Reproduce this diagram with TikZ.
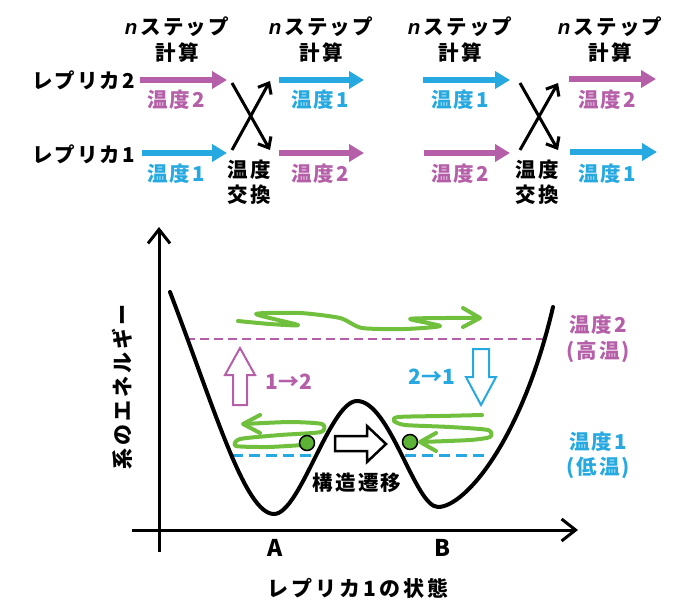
\documentclass[tikz,border=0pt]{standalone}
\usepackage{fontspec}
\setmainfont{Noto Sans CJK JP}
\newfontfamily\latinfont{Liberation Sans}
\usetikzlibrary{arrows.meta}
\definecolor{pk}{RGB}{181,95,168}
\definecolor{bl}{RGB}{38,168,224}
\definecolor{gr}{RGB}{112,192,62}
\definecolor{grdot}{RGB}{92,178,52}
\begin{document}
\begin{tikzpicture}[x=1pt,y=-1pt,
  lbl/.style={inner sep=0pt, font=\fontsize{20.5}{22}\selectfont\bfseries\addfontfeature{LetterSpace=10}},
  numlbl/.style={inner sep=0pt, font=\fontsize{21}{23}\selectfont\bfseries},
  biglbl/.style={inner sep=0pt, font=\fontsize{21}{23}\selectfont\bfseries\addfontfeature{LetterSpace=15}},
  fat/.style={line width=6pt, -{Triangle[length=15pt,width=17pt]}},
  swap/.style={line width=3pt, -{Straight Barb[length=9pt,width=15pt]}},
  axis/.style={line width=3pt, -{Straight Barb[length=14pt,width=22pt]}},
  scrib/.style={gr, line width=4pt, line cap=round, line join=round},
  hollow/.style={line width=2pt, line join=miter},
  dot/.style={circle, fill=grdot, draw=black, line width=1.5pt, minimum size=15pt, inner sep=0pt}]
\useasboundingbox (0,0) rectangle (700,607);

% ---------- top section ----------
\foreach \cx/\nm in {177/a,321/b,460/c,610/d}{
  \node[lbl] (step\nm) at (\cx,27) {{\latinfont\bfseries\itshape n}\,ステップ};
  \node[lbl] (calc\nm) at (\cx,53) {計算};
}
\node[lbl, anchor=east] (rep2) at (135,80) {レプリカ2};
\node[lbl, anchor=east] (rep1) at (135,154) {レプリカ1};

% column 1
\coordinate (a1s) at (140,80);  \coordinate (a1e) at (227,80);
\coordinate (a2s) at (142,153); \coordinate (a2e) at (227,153);
\draw[pk, fat] (a1s) -- (a1e);
\draw[bl, fat] (a2s) -- (a2e);
\node[lbl, text=pk] (ta1) at (176,100) {温度2};
\node[lbl, text=bl] (ta2) at (176,174) {温度1};

% exchange 1
\coordinate (x1a) at (232,83);  \coordinate (x1b) at (270,150);
\coordinate (x1c) at (232,150); \coordinate (x1d) at (270,81);
\draw[swap] (x1a) -- (x1b);
\draw[swap] (x1c) -- (x1d);
\node[lbl] (ex1a) at (249,170) {温度};
\node[lbl] (ex1b) at (249,195) {交換};

% column 2
\coordinate (b1s) at (279,80);  \coordinate (b1e) at (364,80);
\coordinate (b2s) at (279,153); \coordinate (b2e) at (364,153);
\draw[bl, fat] (b1s) -- (b1e);
\draw[pk, fat] (b2s) -- (b2e);
\node[lbl, text=bl] (tb1) at (320,100) {温度1};
\node[lbl, text=pk] (tb2) at (320,174) {温度2};

% column 3
\coordinate (c1s) at (423,80);  \coordinate (c1e) at (510,80);
\coordinate (c2s) at (424,153); \coordinate (c2e) at (510,153);
\draw[bl, fat] (c1s) -- (c1e);
\draw[pk, fat] (c2s) -- (c2e);
\node[lbl, text=bl] (tc1) at (460,100) {温度1};
\node[lbl, text=pk] (tc2) at (460,174) {温度2};

% exchange 2
\coordinate (x2a) at (520,83);  \coordinate (x2b) at (558,150);
\coordinate (x2c) at (520,150); \coordinate (x2d) at (558,83);
\draw[swap] (x2a) -- (x2b);
\draw[swap] (x2c) -- (x2d);
\node[lbl] (ex2a) at (537,170) {温度};
\node[lbl] (ex2b) at (537,195) {交換};

% column 4
\coordinate (d1s) at (569,79);  \coordinate (d1e) at (656,79);
\coordinate (d2s) at (570,152); \coordinate (d2e) at (657,152);
\draw[pk, fat] (d1s) -- (d1e);
\draw[bl, fat] (d2s) -- (d2e);
\node[lbl, text=pk] (td1) at (607,100) {温度2};
\node[lbl, text=bl] (td2) at (607,174) {温度1};

% ---------- bottom section ----------
\coordinate (yb) at (159,552); \coordinate (yt) at (159,227);
\coordinate (xl) at (132,530); \coordinate (xr) at (578,530);
\draw[axis] (yb) -- (yt);
\draw[axis] (xl) -- (xr);

\node[biglbl, rotate=90] (ylab) at (122,387) {系のエネルギー};
\node[biglbl] (xlab) at (358,588) {レプリカ1の状態};
\node[inner sep=0pt, font=\fontsize{23}{25}\selectfont\bfseries] (lA) at (275,548) {A};
\node[inner sep=0pt, font=\fontsize{23}{25}\selectfont\bfseries] (lB) at (442,548) {B};

% dashed levels
\draw[pk, line width=2.5pt, dash pattern=on 9pt off 5pt] (186,339) -- (548,339);
\draw[bl, line width=3pt, dash pattern=on 11pt off 6pt] (232,455) -- (315,455);
\draw[bl, line width=3pt, dash pattern=on 11pt off 6pt] (405,455) -- (488,455);

% potential curve
\draw[line width=4pt, line cap=round]
  (170,292) .. controls (215,410) and (245,514) .. (274,514)
  .. controls (300,514) and (330,401) .. (357,401)
  .. controls (390,401) and (415,507) .. (438,507)
  .. controls (465,507) and (522,440) .. (553,307);

\node[lbl, text=pk] (h1) at (598,325) {温度2};
\node[lbl, text=pk] (h2) at (598,352) {(高温)};
\node[lbl, text=bl] (l1) at (598,442) {温度1};
\node[lbl, text=bl] (l2) at (598,468) {(低温)};

% hollow arrows
\draw[pk, hollow] (240,348) -- (255,375) -- (247,375) -- (247,405) -- (233,405) -- (233,375) -- (225,375) -- cycle;
\node[numlbl, text=pk] (up12) at (289,382) {1→2};
\draw[bl, hollow] (481,405) -- (496,377) -- (489,377) -- (489,349) -- (473,349) -- (473,377) -- (466,377) -- cycle;
\node[numlbl, text=bl] (dn21) at (432,377) {2→1};
\draw[line width=2.5pt, line join=miter] (386,444) -- (367,462) -- (367,451) -- (335,451) -- (335,436) -- (367,436) -- (367,426) -- cycle;
\node[lbl] (trans) at (357,483) {構造遷移};

% green scribbles
\draw[scrib] plot[smooth, tension=0.4] coordinates {(238,321) (270,324) (298,325) (256,314) (300,313) (340,318) (362,328) (405,329) (440,326) (410,319) (445,318) (479,318)};
\draw[scrib] (463,308) -- (480,318) -- (463,327);
\draw[scrib] plot[smooth, tension=0.4] coordinates {(303,445) (268,447) (236,446) (240,439) (280,435) (321,432) (322,424) (290,422) (244,424)};
\draw[scrib] (260,415) -- (243,424) -- (260,433);
\draw[scrib] plot[smooth, tension=0.4] coordinates {(482,415) (440,416) (398,417) (394,421) (405,425) (450,427) (488,430) (490,437) (470,440) (421,442)};
\draw[scrib] (436,433) -- (420,442) -- (436,451);

\node[dot] (dA) at (307,443) {};
\node[dot] (dB) at (410,442) {};
\end{tikzpicture}
\end{document}
